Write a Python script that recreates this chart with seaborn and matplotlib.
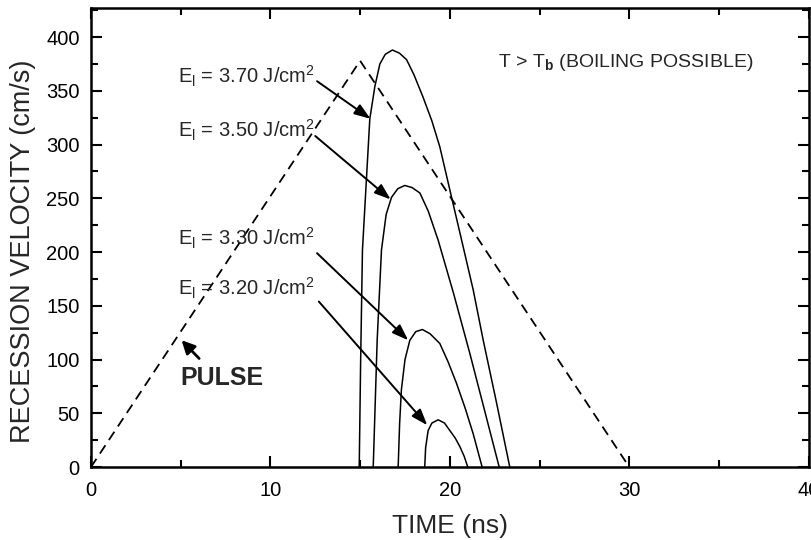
import numpy as np
import pandas as pd
import matplotlib
matplotlib.use("Agg")
import matplotlib.pyplot as plt
from matplotlib.ticker import MultipleLocator
import seaborn as sns

# values
pulse_t = [0, 15, 30]
pulse_v = [0, 378, 0]

e370_t = [14.95, 15.03, 15.13, 15.54, 15.82, 16.1, 16.4, 16.8, 17.2, 17.59, 18.0, 18.51, 19.0, 19.44, 20.18, 20.7, 21.3, 21.86, 22.6, 23.34]
e370_v = [0, 100, 202, 324, 354, 375, 384, 388, 385, 379, 365, 344, 322, 298, 245, 208, 165, 118, 60, 0]

e350_t = [15.73, 15.95, 16.19, 16.45, 16.75, 17.1, 17.49, 17.9, 18.33, 18.8, 19.35, 20.2, 21.11, 21.9, 22.75]
e350_v = [0, 118, 202, 235, 251, 259, 262, 260, 255, 238, 211, 162, 106, 55, 0]

e330_t = [17.12, 17.2, 17.3, 17.5, 17.77, 18.1, 18.47, 18.9, 19.44, 19.9, 20.37, 20.85, 21.3, 21.8]
e330_v = [0, 40, 72, 100, 118, 126, 128, 124, 115, 98, 78, 55, 31, 0]

e320_t = [18.6, 18.65, 18.79, 19.0, 19.35, 19.7, 20.0, 20.3, 20.56, 20.8, 21.0]
e320_v = [0, 18, 34, 41, 44, 41, 34, 27, 19, 10, 0]

labels = ["3.70", "3.50", "3.30", "3.20"]
label_y = [363, 313, 213, 166]
arrow_tail = [(12.6, 359), (12.5, 308), (12.6, 199), (12.7, 154)]
arrow_head = [(15.58, 324), (16.7, 249), (17.68, 118), (18.74, 39)]

sns.set_style("ticks")
plt.rcParams['font.family'] = ['Liberation Sans', 'DejaVu Sans']
plt.rcParams['mathtext.fontset'] = 'custom'
plt.rcParams['mathtext.rm'] = 'Liberation Sans'
plt.rcParams['mathtext.bf'] = 'Liberation Sans:bold'

fig = plt.figure(figsize=(8.12, 5.40), dpi=100)
ax = fig.add_axes([0.112, 0.135, 0.884, 0.85])

curves = pd.concat([
    pd.DataFrame({"t": e370_t, "v": e370_v, "E": "3.70"}),
    pd.DataFrame({"t": e350_t, "v": e350_v, "E": "3.50"}),
    pd.DataFrame({"t": e330_t, "v": e330_v, "E": "3.30"}),
    pd.DataFrame({"t": e320_t, "v": e320_v, "E": "3.20"}),
])
sns.lineplot(data=curves, x="t", y="v", units="E", estimator=None, sort=False,
             color="black", lw=1.1, ax=ax, legend=False)
sns.lineplot(x=pulse_t, y=pulse_v, color="black", lw=1.3, ax=ax,
             linestyle=(0, (5.5, 3.5)), sort=False)

for lab, y in zip(labels, label_y):
    ax.text(4.85, y, r"E$_{\rm l}$ = " + lab + r" J/cm$^{\rm 2}$", fontsize=14.5,
            ha="left", va="center")
for tail, head in zip(arrow_tail, arrow_head):
    ax.annotate("", xy=head, xytext=tail,
                arrowprops=dict(arrowstyle="-|>,head_length=0.7,head_width=0.25",
                                color="black", lw=1.4,
                                mutation_scale=14, shrinkA=0, shrinkB=0))

ax.annotate("", xy=(5.05, 118), xytext=(6.03, 101),
            arrowprops=dict(arrowstyle="-|>,head_length=0.6,head_width=0.3",
                            color="black", lw=2,
                            mutation_scale=13, shrinkA=0, shrinkB=0))
ax.text(4.96, 83, "PULSE", fontsize=18, fontweight="bold", ha="left", va="center")
ax.text(22.7, 376, r"T > T$_{\bf b}$ (BOILING POSSIBLE)", fontsize=14,
        ha="left", va="center")

ax.set_xlim(0, 40)
ax.set_ylim(0, 427)
ax.xaxis.set_major_locator(MultipleLocator(10))
ax.xaxis.set_minor_locator(MultipleLocator(5))
ax.yaxis.set_major_locator(MultipleLocator(50))
ax.yaxis.set_minor_locator(MultipleLocator(25))
ax.tick_params(which="both", direction="in", top=True, right=True, width=1.5,
               labelsize=14.5, color="black", labelcolor="black")
ax.tick_params(which="major", length=8)
ax.tick_params(which="minor", length=5)
ax.tick_params(axis="y", pad=8)
ax.tick_params(axis="x", pad=10)
for s in ax.spines.values():
    s.set_linewidth(1.8)
    s.set_color("black")
ax.set_xlabel("TIME (ns)", fontsize=19, labelpad=10)
ax.set_ylabel("RECESSION VELOCITY (cm/s)", fontsize=19.5)
ax.yaxis.set_label_coords(-0.076, 0.47)

fig.savefig("out.png", dpi=100)
